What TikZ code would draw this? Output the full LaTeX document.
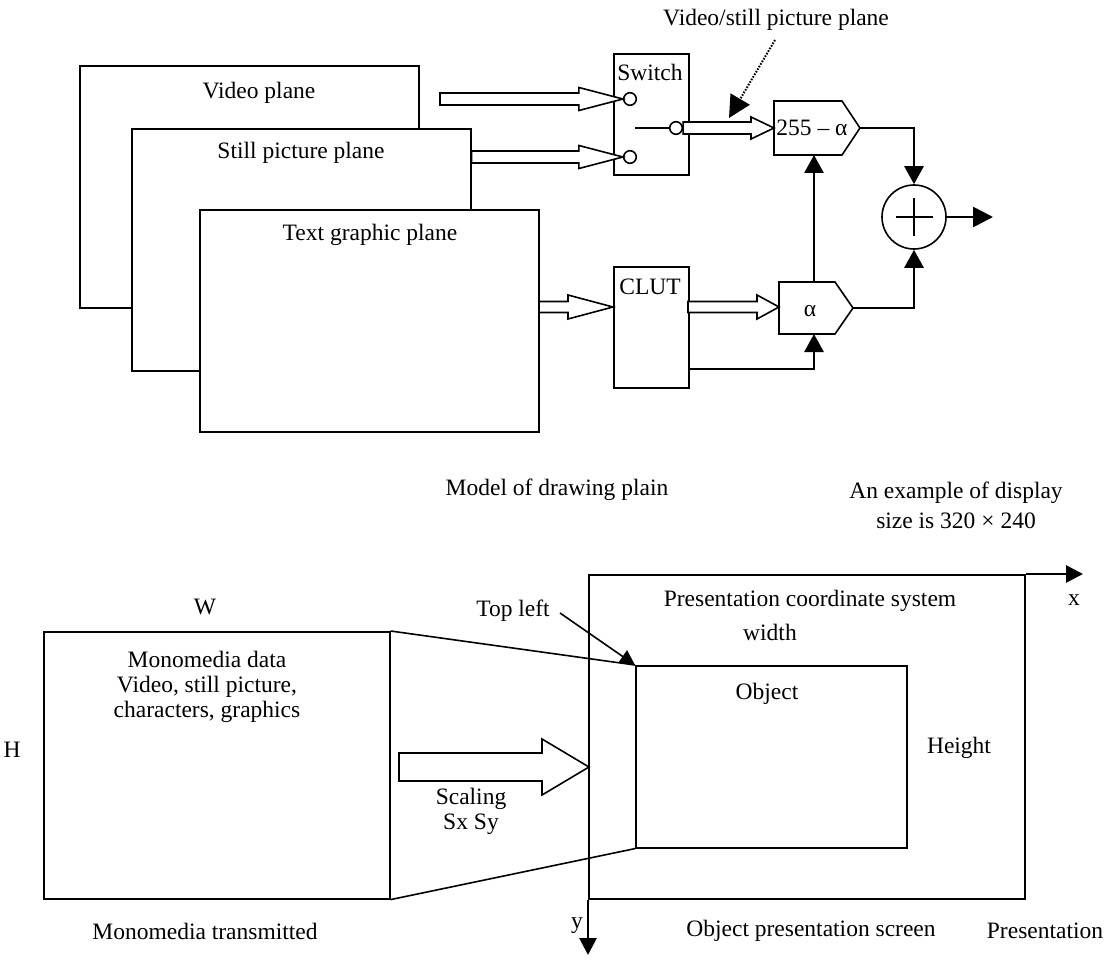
\documentclass[tikz,border=0pt]{standalone}
\usepackage{fontspec}
\setmainfont{Liberation Serif}
\usetikzlibrary{arrows.meta,calc}
\newcommand{\hollowarrow}[5]{%
  \draw[thinline,fill=white] ($(#1)+(0,#3)$) -- ($(#2)+(-#5,#3)$) -- ($(#2)+(-#5,#4)$) -- (#2)
    -- ($(#2)+(-#5,-#4)$) -- ($(#2)+(-#5,-#3)$) -- ($(#1)+(0,-#3)$) -- cycle;}
\begin{document}
\begin{tikzpicture}[x=1pt,y=-1pt,
  thinline/.style={line width=1.6pt},
  thickline/.style={line width=2.8pt},
  lbl/.style={font=\fontsize{23.5}{25}\selectfont,inner sep=0pt,align=center},
  plane/.style={draw,thinline,fill=white,inner sep=0pt,anchor=north west},
  tip/.style={-{Triangle[length=18pt,width=19pt]}},
  smallcirc/.style={circle,draw,thinline,fill=white,minimum size=12.6pt,inner sep=0pt}]
\useasboundingbox (0,0) rectangle (1113,960);

% ---------- planes ----------
\node[plane,minimum width=339pt,minimum height=242pt] (vp) at (79,65) {};
\node[plane,minimum width=339pt,minimum height=242pt] (sp) at (131,128) {};
\node[plane,minimum width=339pt,minimum height=222pt] (tg) at (199,209) {};
\node[lbl] (vpl) at (259,93) {Video plane};
\node[lbl] (spl) at (301,153) {Still picture plane};
\node[lbl] (tgl) at (370,235) {Text graphic plane};

% ---------- switch ----------
\node[plane,minimum width=75pt,minimum height=121pt] (sw) at (613,53) {};
\node[lbl] (swl) at (650,72) {Switch};
\node[smallcirc] (c1) at (630,99) {};
\node[smallcirc] (c2) at (630,157) {};
\node[smallcirc] (c3) at (676,128) {};
\coordinate (swin) at (635,128);
\draw[thickline] (swin) -- (c3.west);

\coordinate (a1s) at (440,99);
\hollowarrow{a1s}{c1.west}{6}{11.5}{44}
\coordinate (a2s) at (sp.east |- c2);
\hollowarrow{a2s}{c2.west}{6}{11.5}{44}

% ---------- 255 - alpha box ----------
\coordinate (bl) at (774,128);
\coordinate (btl) at (774,101);
\coordinate (bbl) at (774,155);
\coordinate (btr) at (842,101);
\coordinate (bbr) at (842,155);
\coordinate (btip) at (860,128);
\draw[thinline] (btl) -- (btr) -- (btip) -- (bbr) -- (bbl) -- cycle;
\node[lbl] (bt) at (812,128) {255 – α};
\hollowarrow{c3.east}{bl}{6}{11}{23}

% dotted pointer
\node[lbl,anchor=west] (vsl) at (663,20) {Video/still picture plane};
\coordinate (dots) at (775,40);
\coordinate (dote) at (729,118);
\draw[line width=2pt,dash pattern=on 1.6pt off 1.4pt,-{Triangle[length=22pt,width=22pt]}] (dots) -- (dote);

% ---------- CLUT ----------
\node[plane,minimum width=75pt,minimum height=121pt] (clut) at (613,266) {};
\node[lbl] (clutl) at (650,287) {CLUT};
\coordinate (a4s) at (539,307);
\coordinate (a4e) at (613,307);
\hollowarrow{a4s}{a4e}{5.5}{12}{45}

% ---------- alpha box ----------
\coordinate (al) at (779,307);
\coordinate (atl) at (779,282);
\coordinate (abl) at (779,334);
\coordinate (atr) at (835,282);
\coordinate (abr) at (835,334);
\coordinate (atip) at (853,308);
\draw[thinline] (atl) -- (atr) -- (atip) -- (abr) -- (abl) -- cycle;
\node[lbl] (at) at (810,311) {α};
\coordinate (a5s) at (688,307);
\hollowarrow{a5s}{al}{5.5}{12}{22}

\coordinate (clutb) at (688,369);
\coordinate (abot) at (814,334);
\coordinate (atop) at (814,282);
\coordinate (bbot) at (814,155);
\draw[thickline,tip] (clutb) -| (abot);
\draw[thickline,tip] (atop) -- (bbot);

% ---------- sum ----------
\node[circle,draw,thinline,minimum size=64pt,inner sep=0pt] (sum) at (914,217) {};
\draw[line width=2.2pt] ($(sum)+(-18.5,0)$) -- ($(sum)+(18.5,0)$);
\draw[line width=2.2pt] ($(sum)+(0,-18.5)$) -- ($(sum)+(0,18.5)$);
\draw[thickline,tip] (btip) -| (sum.north);
\draw[thickline,tip] (atip) -| (sum.south);
\coordinate (out) at (993,217);
\draw[thickline,-{Triangle[length=20pt,width=20pt]}] (sum.east) -- (out);

% ---------- captions ----------
\node[lbl] (model) at (557,490) {Model of drawing plain};
\node[lbl,font=\fontsize{23.5}{30}\selectfont] (ex) at (956,505) {An example of display\\size is 320 × 240};

% ---------- lower diagram ----------
\node[plane,minimum width=346pt,minimum height=267pt] (mono) at (43,631) {};
\node[lbl] (monol) at (207,687) {Monomedia data\\Video, still picture,\\characters, graphics};
\node[lbl] (W) at (205,607) {W};
\node[lbl] (H) at (12,750) {H};

\node[draw,thinline,inner sep=0pt,anchor=north west,minimum width=436pt,minimum height=324pt] (pres) at (588,574) {};
\node[draw,thinline,inner sep=0pt,anchor=north west,minimum width=271pt,minimum height=182pt] (obj) at (635,665) {};

\draw[thinline] (mono.north east) -- (obj.north west);
\draw[thinline] (mono.south east) -- (obj.south west);

\coordinate (xend) at (1083,574);
\coordinate (yend) at (588,955);
\draw[thickline,-{Triangle[length=17pt,width=17pt]}] (pres.north east) -- (xend);
\draw[thickline,-{Triangle[length=17pt,width=17pt]}] (pres.south west) -- (yend);
\node[lbl] (xl) at (1074,600) {x};
\node[lbl] (yl) at (577,926) {y};

\coordinate (bas) at (399,767);
\coordinate (bae) at (589,767);
\hollowarrow{bas}{bae}{14}{28}{47}
\node[lbl] (scal) at (471,811) {Scaling\\Sx Sy};

\node[lbl] (tl) at (513,611) {Top left};
\coordinate (tls) at (560,613);
\draw[thinline,-{Triangle[length=15pt,width=15pt]}] (tls) -- (obj.north west);

\node[lbl] (pcs) at (810,601) {Presentation coordinate system};
\node[lbl] (wd) at (770,632) {width};
\node[lbl] (objl) at (767,694) {Object};
\node[lbl] (ht) at (959,748) {Height};

\node[lbl] (mt) at (205,931) {Monomedia transmitted};
\node[lbl] (ops) at (811,931) {Object presentation screen};
\node[lbl] (pr) at (1045,931) {Presentation};
\end{tikzpicture}
\end{document}
